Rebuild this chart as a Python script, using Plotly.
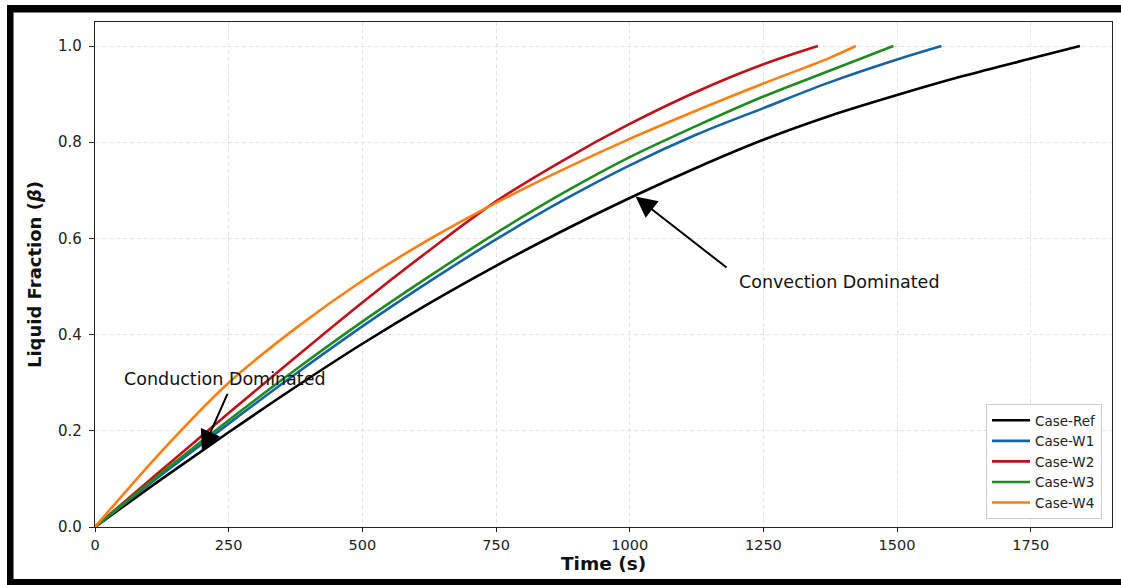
import plotly.graph_objects as go

# Melting time histories: liquid fraction vs time for each case
t_ref = [0, 125, 250, 375, 500, 625, 750, 875, 1000, 1125, 1250, 1375, 1500, 1625, 1750, 1842]
b_ref = [0, 0.100, 0.197, 0.291, 0.381, 0.465, 0.543, 0.616, 0.684, 0.747, 0.805, 0.855, 0.898, 0.938, 0.974, 1.0]

t_w1 = [0, 125, 250, 375, 500, 625, 750, 875, 1000, 1125, 1250, 1375, 1500, 1583]
b_w1 = [0, 0.109, 0.215, 0.318, 0.417, 0.510, 0.598, 0.679, 0.752, 0.816, 0.871, 0.925, 0.972, 1.0]

t_w2 = [0, 125, 250, 375, 500, 625, 750, 875, 1000, 1125, 1250, 1352]
b_w2 = [0, 0.119, 0.237, 0.353, 0.467, 0.575, 0.677, 0.762, 0.838, 0.905, 0.962, 1.0]

t_w3 = [0, 125, 250, 375, 500, 625, 750, 875, 1000, 1125, 1250, 1375, 1493]
b_w3 = [0, 0.113, 0.222, 0.327, 0.427, 0.521, 0.611, 0.694, 0.769, 0.834, 0.895, 0.949, 1.0]

t_w4 = [0, 125, 250, 375, 500, 625, 750, 875, 1000, 1125, 1250, 1375, 1423]
b_w4 = [0, 0.158, 0.300, 0.413, 0.512, 0.598, 0.674, 0.743, 0.807, 0.866, 0.922, 0.976, 1.0]

series = [
    ("Case-Ref", t_ref, b_ref, "#000000"),
    ("Case-W1", t_w1, b_w1, "#1464a5"),
    ("Case-W2", t_w2, b_w2, "#c0111b"),
    ("Case-W3", t_w3, b_w3, "#1f8b1f"),
    ("Case-W4", t_w4, b_w4, "#ff7f0e"),
]

x_ticks = [0, 250, 500, 750, 1000, 1250, 1500, 1750]
y_ticks = [0.0, 0.2, 0.4, 0.6, 0.8, 1.0]

W, H = 1121, 585
L, R, T, B = 95, 9, 22, 58
PW, PH = W - L - R, H - T - B


def px_x(px):
    return (px - L) / PW


def px_y(py):
    return (H - B - py) / PH


fig = go.Figure()
for name, t, b, c in series:
    fig.add_trace(go.Scatter(
        x=t, y=b, mode="lines", name=name,
        line=dict(color=c, width=2.6, shape="spline", smoothing=1.0),
    ))

font = "DejaVu Sans, Verdana, sans-serif"
grid = dict(showgrid=True, gridcolor="#e2e2e2", griddash="4px,3px", gridwidth=1)

fig.update_layout(
    width=W, height=H,
    margin=dict(l=L, r=R, t=T, b=B),
    paper_bgcolor="white", plot_bgcolor="white",
    font=dict(family=font, size=15, color="#222"),
    showlegend=True,
    legend=dict(
        x=px_x(1102), y=px_y(519), xanchor="right", yanchor="bottom",
        bgcolor="white", bordercolor="#cccccc", borderwidth=1,
        font=dict(size=13.5, color="#222"), tracegroupgap=0,
        itemwidth=38,
    ),
    xaxis=dict(
        range=[0, 1902], tickvals=x_ticks, ticks="outside", ticklen=4,
        tickcolor="#222", showline=True, linecolor="#222", linewidth=1.2, mirror=True,
        zeroline=False, tickfont=dict(size=14.5),
        **grid,
    ),
    yaxis=dict(
        range=[0, 1.05], tickvals=y_ticks, tickformat=".1f", ticks="outside", ticklen=5,
        tickcolor="#222", showline=True, linecolor="#222", linewidth=1.2, mirror=True,
        zeroline=False, tickfont=dict(size=15), ticklabelstandoff=4,
        title=dict(text="<b>Liquid Fraction (<i>β</i>)</b>", font=dict(size=18, color="#111"), standoff=11),
        **grid,
    ),
)

# x-axis title
fig.add_annotation(
    x=0.5, y=px_y(563), xref="paper", yref="paper", text="<b>Time (s)</b>",
    showarrow=False, xanchor="center", yanchor="middle", font=dict(size=18.5, color="#111"),
)

# Annotation arrows
fig.add_annotation(
    x=1011, y=0.687, ax=1184, ay=0.537, xref="x", yref="y", axref="x", ayref="y",
    text="", showarrow=True, arrowhead=2, arrowsize=2.1, arrowwidth=2, arrowcolor="black",
)
fig.add_annotation(
    x=1200, y=0.51, xref="x", yref="y", text="Convection Dominated",
    showarrow=False, xanchor="left", yanchor="middle", font=dict(size=17.5, color="#111"),
)
fig.add_annotation(
    x=200, y=0.157, ax=249, ay=0.28, xref="x", yref="y", axref="x", ayref="y",
    text="", showarrow=True, arrowhead=2, arrowsize=2.1, arrowwidth=2, arrowcolor="black",
)
fig.add_annotation(
    x=50, y=0.308, xref="x", yref="y", text="Conduction Dominated",
    showarrow=False, xanchor="left", yanchor="middle", font=dict(size=17.5, color="#111"),
)

# Heavy black frame on the left, top and bottom
frame = [
    (7, 5, 13.5, 585),
    (7, 5, 1121, 12.5),
    (7, 579, 1121, 585),
]
for x0, y0, x1, y1 in frame:
    fig.add_shape(
        type="rect", xref="paper", yref="paper",
        x0=px_x(x0), x1=px_x(x1), y0=px_y(y0), y1=px_y(y1),
        fillcolor="black", line=dict(width=0), layer="above",
    )

fig.write_html("out.html")
